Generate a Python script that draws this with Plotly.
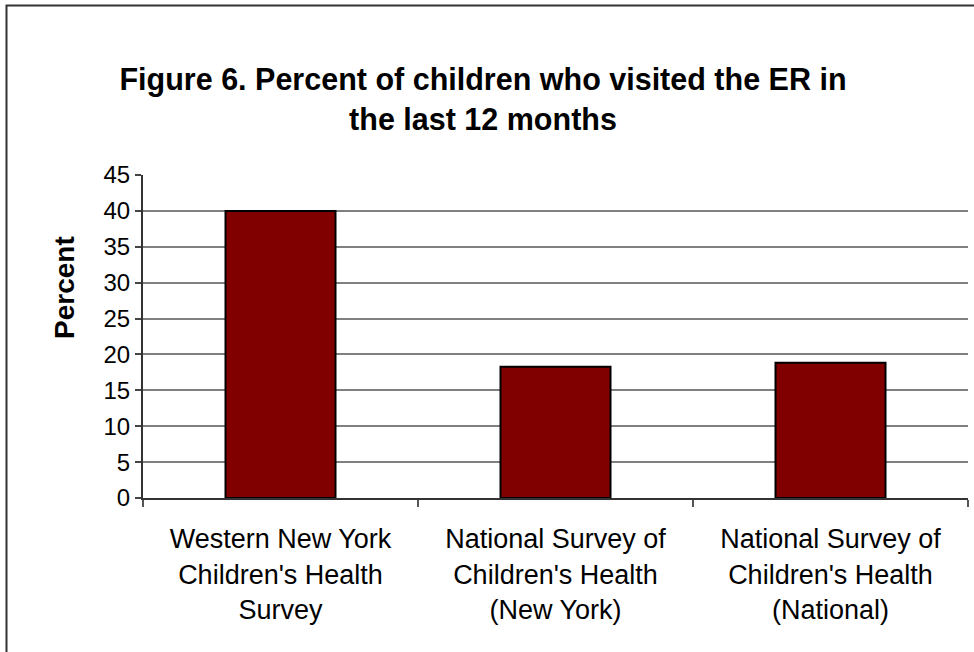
import plotly.graph_objects as go

# Survey sources and the share of children with an ER visit in the past year
categories = [
    "Western New York<br>Children's Health<br>Survey",
    "National Survey of<br>Children's Health<br>(New York)",
    "National Survey of<br>Children's Health<br>(National)",
]
percent_values = [40.0, 18.3, 18.85]
y_tick_values = [0, 5, 10, 15, 20, 25, 30, 35, 40, 45]

FONT = "Liberation Sans, Arial, sans-serif"

W, H = 974, 652
L, R, T, B = 143, 6, 175, 154
plot_w = W - L - R
plot_h = H - T - B

fig = go.Figure(
    go.Bar(
        x=categories,
        y=percent_values,
        marker=dict(color="#800000", line=dict(color="#000000", width=2)),
        width=0.4,
        hoverinfo="skip",
    )
)

# chart frame (left and top edges fall inside the page)
fig.add_shape(
    type="rect",
    xref="paper", yref="paper",
    x0=(6.5 - L) / plot_w, x1=(W + 10 - L) / plot_w,
    y0=(T + plot_h - (H + 10)) / plot_h, y1=(T + plot_h - 5.5) / plot_h,
    line=dict(color="#333333", width=2),
    fillcolor="rgba(0,0,0,0)",
    layer="below",
)

# vertical axis title
fig.add_annotation(
    text="<b>Percent</b>",
    xref="paper", yref="paper",
    x=(64 - L) / plot_w, y=(T + plot_h - 288) / plot_h,
    xanchor="center", yanchor="middle",
    textangle=-90, showarrow=False,
    font=dict(family=FONT, size=28, color="#000000"),
)

fig.update_layout(
    width=W, height=H,
    margin=dict(l=L, r=R, t=T, b=B),
    paper_bgcolor="white",
    plot_bgcolor="white",
    showlegend=False,
    font=dict(family=FONT, color="#000000"),
    title=dict(
        text="<b>Figure 6. Percent of children who visited the ER in<br>the last 12 months</b>",
        font=dict(family=FONT, size=30.5, color="#000000"),
        x=483 / W, xanchor="center",
        y=1 - 90 / H, yanchor="top", yref="container",
    ),
    xaxis=dict(
        type="category",
        showline=True, linecolor="#333333", linewidth=2,
        ticks="outside", tickson="boundaries", ticklen=7,
        tickcolor="#555555", tickwidth=1.5,
        tickfont=dict(family=FONT, size=27, color="#000000"),
        showgrid=False,
        ticklabelstandoff=16,
    ),
    yaxis=dict(
        range=[0, 45],
        tickvals=y_tick_values,
        ticks="outside", ticklen=6, tickcolor="#444444", tickwidth=1.5,
        showline=True, linecolor="#333333", linewidth=2,
        showgrid=True, gridcolor="#808080", gridwidth=1.5,
        zeroline=False,
        tickfont=dict(family=FONT, size=24, color="#000000"),
    ),
)

fig.write_html("out.html")
